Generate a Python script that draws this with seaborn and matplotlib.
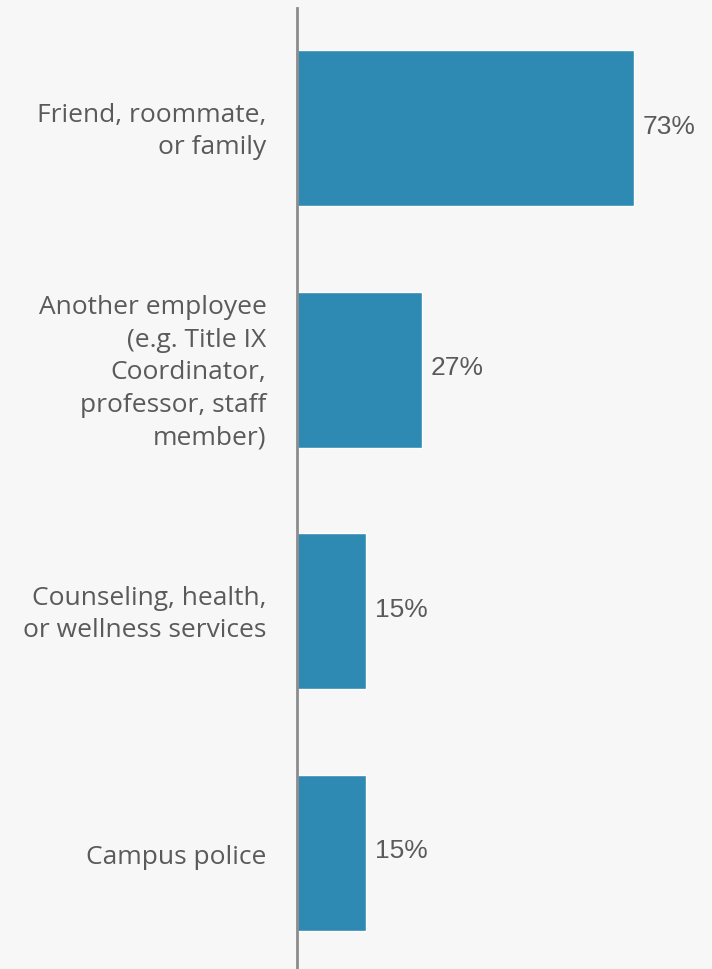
import matplotlib
matplotlib.use("Agg")
import matplotlib.pyplot as plt
import matplotlib.transforms as mtransforms
import seaborn as sns
import pandas as pd

categories = [
    "Friend, roommate,\nor family",
    "Another employee\n(e.g. Title IX\nCoordinator,\nprofessor, staff\nmember)",
    "Counseling, health,\nor wellness services",
    "Campus police",
]
percents = [73, 27, 15, 15]
value_labels = ["73%", "27%", "15%", "15%"]

bg = "#f7f7f7"
bar_color = "#2e8ab3"
text_color = "#5a5a5a"

sns.set_theme(style="white")
plt.rcParams["font.family"] = ["Open Sans", "DejaVu Sans"]

df = pd.DataFrame({"category": categories, "percent": percents})

fig = plt.figure(figsize=(7.12, 9.69), dpi=100, facecolor=bg)
ax = fig.add_axes([297 / 712, 0.0, 1 - 297 / 712, 1 - 8 / 969])
ax.set_facecolor(bg)

sns.barplot(data=df, x="percent", y="category", color=bar_color,
            width=0.646, saturation=1, ax=ax, orient="h")

ax.set_xlim(0, 415 / 4.616)
ax.set_ylim(3.482, -0.497)

for spine in ["top", "right", "bottom"]:
    ax.spines[spine].set_visible(False)
ax.spines["left"].set_color("#8c8c8c")
ax.spines["left"].set_linewidth(2)

ax.set_xticks([])
ax.set_xlabel("")
ax.set_ylabel("")
ax.tick_params(axis="y", length=0, pad=22)

# nudge multi-line category labels up a little so they sit centred on the bars
shift_up = mtransforms.ScaledTranslation(0, 3.5 / 100, fig.dpi_scale_trans)
shift_down = mtransforms.ScaledTranslation(0, -1.5 / 100, fig.dpi_scale_trans)
for tick in ax.yaxis.get_major_ticks():
    lbl = tick.label1
    multi = "\n" in lbl.get_text()
    lbl.set_transform(lbl.get_transform() + (shift_up if multi else shift_down))
    lbl.set_fontsize(19)
    lbl.set_color(text_color)
    lbl.set_horizontalalignment("right")
    lbl.set_multialignment("right")
    lbl.set_linespacing(1.39)

for i, (v, txt) in enumerate(zip(percents, value_labels)):
    ax.annotate(txt, xy=(v, i), xytext=(6.5, 1), textcoords="offset points",
                va="center", ha="left", fontsize=19, color=text_color,
                family=["Liberation Sans", "DejaVu Sans"])

fig.savefig("out.png", dpi=100, facecolor=bg)
